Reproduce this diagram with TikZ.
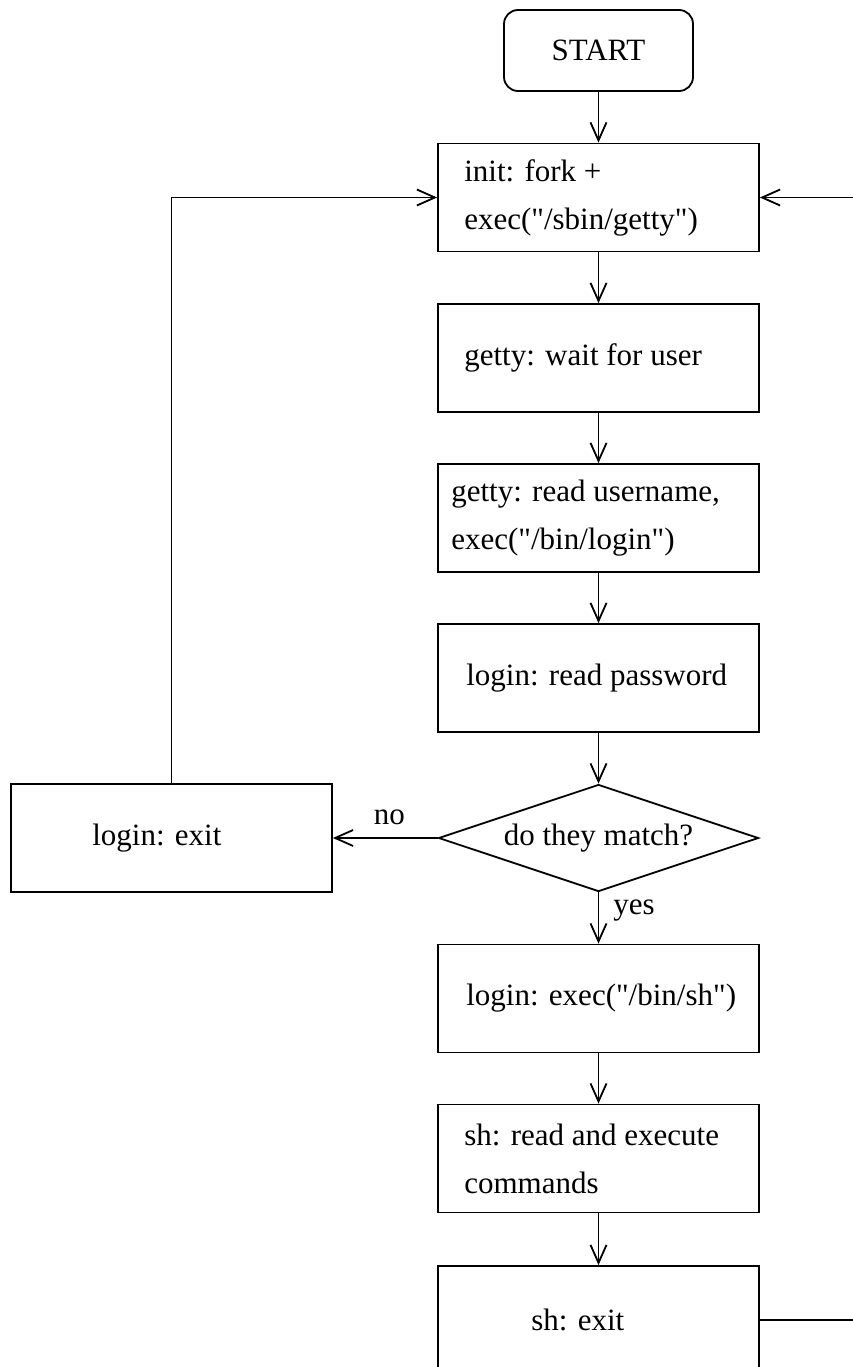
\documentclass[tikz,border=0pt]{standalone}
\usepackage{fontspec}
\setmainfont{Liberation Serif}[Ligatures=TeXOff]
\usetikzlibrary{shapes.geometric,arrows.meta}
\begin{document}
\begin{tikzpicture}[x=1pt,y=-1pt,
  every node/.style={font=\fontsize{31}{48}\selectfont},
  arr/.style={line width=1.8pt, -{Straight Barb[length=18pt,width=16pt,line width=1.8pt]}},
  procbox/.style={draw, line width=1.8pt, minimum width=321pt, minimum height=108pt, inner sep=0pt},
  startbox/.style={draw, line width=1.8pt, rounded corners=14pt, minimum width=189pt, minimum height=81pt, inner sep=0pt},
  decision/.style={draw, diamond, line width=1.8pt, aspect=3, inner sep=0pt, minimum width=320pt, minimum height=107pt},
  txt/.style={inner sep=0pt, align=left, anchor=west},
  lbl/.style={inner sep=0pt}
]
\useasboundingbox (0,0) rectangle (853,1367);
\clip (0,0) rectangle (853,1367);

% boxes
\node[startbox] (start) at (598.5,50.5) {START};
\node[procbox] (init) at (598.5,197.5) {};
\node[procbox] (getty) at (598.5,358) {};
\node[procbox] (gettyr) at (598.5,518) {};
\node[procbox] (pwd) at (598.5,678) {};
\node[decision] (match) at (598.5,838) {do they match?};
\node[procbox] (lexit) at (171.5,838) {};
\node[procbox] (sh) at (598.5,998.5) {};
\node[procbox] (shr) at (598.5,1158.5) {};
\node[procbox] (shexit) at (598.5,1320) {};

% texts
\node[txt] (initt) at ([xshift=27pt]init.west) {init: fork +\\exec("/sbin/getty")};
\node[txt] (gettyt) at ([xshift=27pt]getty.west) {getty: wait for user};
\node[txt] (gettyrt) at ([xshift=14pt]gettyr.west) {getty: read username,\\exec("/bin/login")};
\node[txt] (pwdt) at ([xshift=29pt]pwd.west) {login: read password};
\node[txt] (lexitt) at ([xshift=82pt]lexit.west) {login: exit};
\node[txt] (sht) at ([xshift=29pt]sh.west) {login: exec("/bin/sh")};
\node[txt] (shrt) at ([xshift=27pt]shr.west) {sh: read and execute\\commands};
\node[txt] (shexitt) at ([xshift=94pt]shexit.west) {sh: exit};

% connectors
\draw[arr] (start) -- (init);
\draw[arr] (init) -- (getty);
\draw[arr] (getty) -- (gettyr);
\draw[arr] (gettyr) -- (pwd);
\draw[arr] (pwd) -- (match);
\draw[arr] (match) -- node[lbl, pos=0.46, above=12pt] (no) {no} (lexit);
\draw[arr] (match) -- node[lbl, pos=0.35, right=14pt] (yes) {yes} (sh);
\draw[arr] (sh) -- (shr);
\draw[arr] (shr) -- (shexit);
\draw[arr] (lexit.north) |- (init.west);
\draw[arr] (shexit.east) -- ++(150,0) |- (init.east);
\end{tikzpicture}
\end{document}
